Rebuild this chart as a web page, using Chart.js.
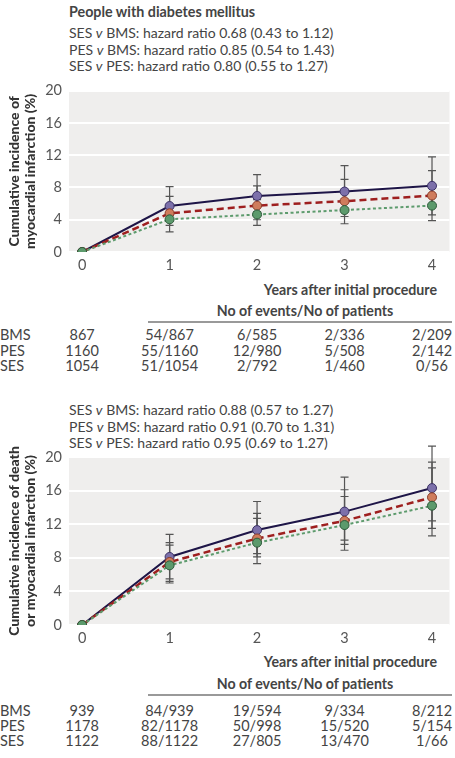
<!DOCTYPE html>
<html>
<head>
<meta charset="utf-8">
<script src="https://cdn.jsdelivr.net/npm/chart.js@4.4.1/dist/chart.umd.min.js"></script>
<style>
  body { margin: 0; background: #fff; font-family: Lato, "Open Sans", sans-serif; color: #444; }
  #page { position: relative; width: 455px; height: 758px; overflow: hidden; }
  .abs { position: absolute; white-space: nowrap; }
  .title { font-weight: 700; font-size: 14.3px; color: #444; }
  .hr { font-size: 14px; line-height: 16.5px; color: #444; }
  .hr i { font-style: italic; }
  .bold { font-weight: 700; font-size: 14.2px; color: #444; }
  .row { font-size: 14.5px; color: #444; }
  .rule { position: absolute; height: 2px; background: #999; }
  canvas { position: absolute; left: 0; }
</style>
</head>
<body>
<div id="page">
  <div class="abs title" style="left:69px;top:3px">People with diabetes mellitus</div>
  <div class="abs hr" style="left:69px;top:25px">
    SES <i>v</i> BMS: hazard ratio 0.68 (0.43 to 1.12)<br>
    PES <i>v</i> BMS: hazard ratio 0.85 (0.54 to 1.43)<br>
    SES <i>v</i> PES: hazard ratio 0.80 (0.55 to 1.27)
  </div>
  <div style="position:absolute;left:0;top:75px;width:455px;height:200px"><canvas id="miChart"></canvas></div>
  <div class="abs bold" style="right:18px;top:281px">Years after initial procedure</div>
  <div class="abs bold" style="left:305px;top:302px;transform:translateX(-50%)">No of events/No of patients</div>
  <div class="rule" style="left:148px;top:321px;width:304px"></div>
  <div id="miTable"></div>

  <div class="abs hr" style="left:69px;top:402px">
    SES <i>v</i> BMS: hazard ratio 0.88 (0.57 to 1.27)<br>
    PES <i>v</i> BMS: hazard ratio 0.91 (0.70 to 1.31)<br>
    SES <i>v</i> PES: hazard ratio 0.95 (0.69 to 1.27)
  </div>
  <div style="position:absolute;left:0;top:440px;width:455px;height:208px"><canvas id="dmiChart"></canvas></div>
  <div class="abs bold" style="right:18px;top:653px">Years after initial procedure</div>
  <div class="abs bold" style="left:305px;top:675px;transform:translateX(-50%)">No of events/No of patients</div>
  <div class="rule" style="left:148px;top:694px;width:304px"></div>
  <div id="dmiTable"></div>
</div>
<script>
// ---- data: years after initial procedure ----
const years = [0, 1, 2, 3, 4];
const groups = ['BMS', 'PES', 'SES'];

// Myocardial infarction (%)
const miBMS = [0, 5.7, 6.95, 7.5, 8.2];
const miBMSLow = [0, 4.0, 5.0, 5.3, 5.6];
const miBMSHigh = [0, 8.1, 9.6, 10.7, 11.8];
const miPES = [0, 4.8, 5.75, 6.3, 7.0];
const miPESLow = [0, 3.3, 4.0, 4.4, 4.6];
const miPESHigh = [0, 6.9, 8.2, 9.0, 10.1];
const miSES = [0, 4.05, 4.65, 5.2, 5.75];
const miSESLow = [0, 2.5, 3.3, 3.5, 3.9];
const miSESHigh = [0, 5.8, 6.5, 7.6, 8.3];

// Death or myocardial infarction (%)
const dmiBMS = [0, 8.1, 11.3, 13.5, 16.3];
const dmiBMSLow = [0, 5.5, 8.5, 10.1, 12.4];
const dmiBMSHigh = [0, 10.8, 14.7, 17.6, 21.3];
const dmiPES = [0, 7.5, 10.3, 12.4, 15.2];
const dmiPESLow = [0, 5.2, 8.1, 9.6, 11.5];
const dmiPESHigh = [0, 9.8, 13.3, 16.1, 19.4];
const dmiSES = [0, 7.1, 9.8, 11.9, 14.2];
const dmiSESLow = [0, 5.0, 7.3, 8.9, 10.6];
const dmiSESHigh = [0, 9.5, 12.7, 15.3, 18.7];

const yTicks = [0, 4, 8, 12, 16, 20];

// ---- patients at risk / events tables ----
const miAtRisk = [867, 1160, 1054];
const miEventsBMS = ['54/867', '6/585', '2/336', '2/209'];
const miEventsPES = ['55/1160', '12/980', '5/508', '2/142'];
const miEventsSES = ['51/1054', '2/792', '1/460', '0/56'];

const dmiAtRisk = [939, 1178, 1122];
const dmiEventsBMS = ['84/939', '19/594', '9/334', '8/212'];
const dmiEventsPES = ['82/1178', '50/998', '15/520', '5/154'];
const dmiEventsSES = ['88/1122', '27/805', '13/470', '1/66'];

// grey panel behind the plot
const panelBg = {
    id: 'panelBg',
    beforeDraw(chart) {
        const { ctx, chartArea: a } = chart;
        ctx.save();
        ctx.fillStyle = '#efeeed';
        ctx.fillRect(a.left, a.top, a.right - a.left, a.bottom - a.top);
        ctx.restore();
    }
};

// confidence interval whiskers
const errorBars = {
    id: 'errorBars',
    beforeDatasetsDraw(chart) {
        const { ctx, scales: { x, y } } = chart;
        ctx.save();
        ctx.strokeStyle = '#555';
        ctx.lineWidth = 1.2;
        chart.data.datasets.forEach(ds => {
            ds.data.forEach((p, i) => {
                if (!ds.low || ds.low[i] === ds.high[i]) return;
                const px = x.getPixelForValue(p.x);
                const lo = y.getPixelForValue(ds.low[i]);
                const hi = y.getPixelForValue(ds.high[i]);
                ctx.beginPath();
                ctx.moveTo(px, lo); ctx.lineTo(px, hi);
                ctx.moveTo(px - 4, lo); ctx.lineTo(px + 4, lo);
                ctx.moveTo(px - 4, hi); ctx.lineTo(px + 4, hi);
                ctx.stroke();
            });
        });
        ctx.restore();
    }
};

function series(vals, low, high, style) {
    return Object.assign({
        data: years.map((yr, i) => ({ x: yr, y: vals[i] })),
        low: low, high: high,
        pointRadius: 4.5, pointBorderWidth: 1, tension: 0, fill: false
    }, style);
}

const bmsStyle = { label: 'BMS', borderColor: '#1e1547', borderWidth: 2, pointBackgroundColor: '#7c70aa', pointBorderColor: '#3b3166' };
const pesStyle = { label: 'PES', borderColor: '#9e1f1f', borderWidth: 2.5, borderDash: [7, 4], pointBackgroundColor: '#cf7c5c', pointBorderColor: '#8a3d2b' };
const sesStyle = { label: 'SES', borderColor: '#5d9b6d', borderWidth: 2, borderDash: [3, 2.5], pointBackgroundColor: '#5c9a6c', pointBorderColor: '#2f5b3b' };

function makeChart(id, title, datasets, padTop) {
    return new Chart(document.getElementById(id), {
        type: 'line',
        data: { datasets: datasets },
        options: {
            responsive: true, maintainAspectRatio: false, animation: false,
            layout: { padding: { top: padTop, right: 5, bottom: 0, left: 0 } },
            plugins: { legend: { display: false }, tooltip: { enabled: false } },
            scales: {
                x: {
                    type: 'linear', min: -0.15, max: 4.2,
                    afterBuildTicks: s => { s.ticks = years.map(v => ({ value: v })); },
                    afterFit: s => { s.height = 23; },
                    grid: { display: false, drawTicks: false },
                    border: { display: false },
                    ticks: { color: '#555', padding: 5, font: { family: 'Lato', size: 14.5 } }
                },
                y: {
                    min: 0, max: 20,
                    afterBuildTicks: s => { s.ticks = yTicks.map(v => ({ value: v })); },
                    afterFit: s => { s.width = 69; },
                    grid: { color: '#ffffff', lineWidth: 2, drawTicks: false },
                    border: { display: false },
                    ticks: { color: '#555', padding: 7, font: { family: 'Lato', size: 14.5 } },
                    title: { display: true, text: title, color: '#333', padding: { top: 6, bottom: 0 },
                             font: { family: 'Lato', size: 14, weight: 900, lineHeight: 1.15 } }
                }
            }
        },
        plugins: [panelBg, errorBars]
    });
}

const miChart = makeChart('miChart', ['Cumulative incidence of', 'myocardial infarction (%)'], [
    series(miSES, miSESLow, miSESHigh, sesStyle),
    series(miPES, miPESLow, miPESHigh, pesStyle),
    series(miBMS, miBMSLow, miBMSHigh, bmsStyle)
], 8);

const dmiChart = makeChart('dmiChart', ['Cumulative incidence of death', 'or myocardial infarction (%)'], [
    series(dmiSES, dmiSESLow, dmiSESHigh, sesStyle),
    series(dmiPES, dmiPESLow, dmiPESHigh, pesStyle),
    series(dmiBMS, dmiBMSLow, dmiBMSHigh, bmsStyle)
], 17);

// tables aligned on the x scale
function buildTable(elId, chart, atRisk, rows, tops) {
    const el = document.getElementById(elId);
    const xs = chart.scales.x;
    groups.forEach((g, r) => {
        const cells = [g, String(atRisk[r])].concat(rows[r]);
        cells.forEach((txt, c) => {
            const d = document.createElement('div');
            d.className = 'abs row';
            d.textContent = txt;
            d.style.top = (tops[r] - 9) + 'px';
            if (c === 0) {
                d.style.left = '0px';
            } else {
                d.style.left = xs.getPixelForValue(years[c - 1]) + 'px';
                d.style.transform = 'translateX(-50%)';
            }
            el.appendChild(d);
        });
    });
}
buildTable('miTable', miChart, miAtRisk, [miEventsBMS, miEventsPES, miEventsSES], [335, 351, 366]);
buildTable('dmiTable', dmiChart, dmiAtRisk, [dmiEventsBMS, dmiEventsPES, dmiEventsSES], [711, 726, 741]);
</script>
</body>
</html>
